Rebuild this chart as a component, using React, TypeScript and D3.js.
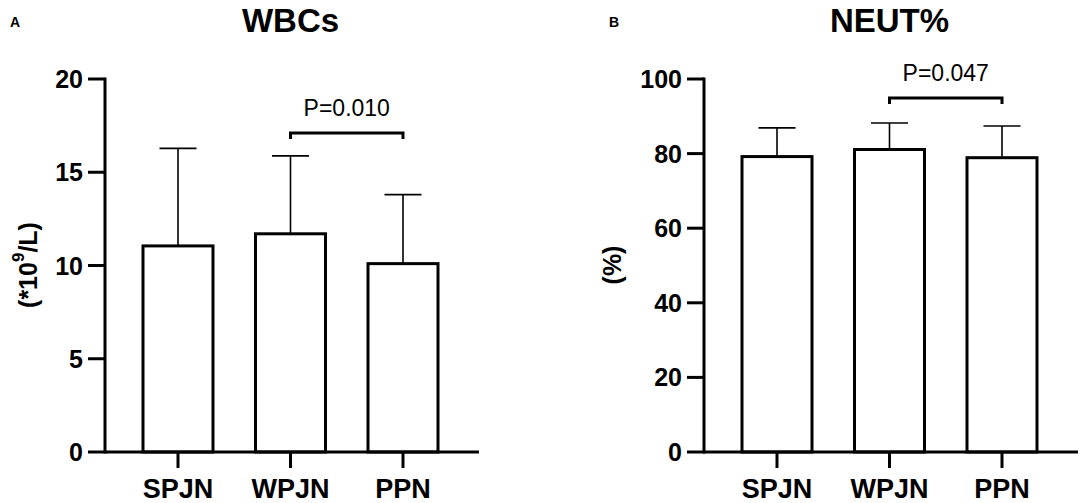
import React from 'react';
import {scaleLinear, scalePoint} from 'd3';

const groups = ['SPJN', 'WPJN', 'PPN'];

const wbcMean = [11.05, 11.7, 10.1];
const wbcTop = [16.28, 15.88, 13.8];
const wbcTicks = [0, 5, 10, 15, 20];

const neutMean = [79.2, 81.1, 78.9];
const neutTop = [86.9, 88.2, 87.4];
const neutTicks = [0, 20, 40, 60, 80, 100];

const FONT = '"Liberation Sans", Arial, Helvetica, sans-serif';

interface PanelProps {
    x0: number
    letter: string
    title: string
    ylabel: React.ReactNode
    ylabelX: number
    means: number[]
    tops: number[]
    ticks: number[]
    ymax: number
    pText: string
    pFrom: string
    pTo: string
    pY: number
}

const Panel = ({x0, letter, title, ylabel, ylabelX, means, tops, ticks, ymax, pText, pFrom, pTo, pY}: PanelProps): JSX.Element => {
    const yScale = scaleLinear().domain([0, ymax]).range([452, 79]);
    const xScale = scalePoint<string>().domain(groups).range([x0 + 73, x0 + 298]);
    const axisLeft = x0;
    const axisRight = x0 + 374;
    const barW = 70;
    const capW = 37;

    const bx1 = xScale(pFrom)!;
    const bx2 = xScale(pTo)!;
    const by = yScale(pY);

    return (
        <g fontFamily={FONT}>
            <text x={x0 - 95} y={27} fontSize={14} fontWeight="bold">{letter}</text>
            <text x={xScale('WPJN')!} y={32} fontSize={33} fontWeight="bold" textAnchor="middle">{title}</text>
            <text transform={`translate(${ylabelX},265) rotate(-90)`} fontSize={25} fontWeight="bold"
                  textAnchor="middle" dominantBaseline="central">{ylabel}</text>

            {/* bars */}
            {groups.map((g, i) => (
                <g key={g}>
                    <line x1={xScale(g)!} x2={xScale(g)!} y1={yScale(means[i])} y2={yScale(tops[i])}
                          stroke="#000" strokeWidth={1.6}/>
                    <line x1={xScale(g)! - capW / 2} x2={xScale(g)! + capW / 2} y1={yScale(tops[i])} y2={yScale(tops[i])}
                          stroke="#000" strokeWidth={1.6}/>
                    <rect x={xScale(g)! - barW / 2} y={yScale(means[i])} width={barW}
                          height={yScale(0) - yScale(means[i])} fill="#fff" stroke="#000" strokeWidth={3}/>
                </g>
            ))}

            {/* y axis */}
            <line x1={axisLeft} x2={axisLeft} y1={yScale(ymax) - 1.5} y2={yScale(0) + 1.5} stroke="#000" strokeWidth={3}/>
            {ticks.map(t => (
                <g key={t}>
                    <line x1={axisLeft - 17} x2={axisLeft} y1={yScale(t)} y2={yScale(t)} stroke="#000" strokeWidth={3}/>
                    <text x={axisLeft - 22} y={yScale(t)} fontSize={25} fontWeight="bold" textAnchor="end"
                          dominantBaseline="central">{t}</text>
                </g>
            ))}

            {/* x axis */}
            <line x1={axisLeft} x2={axisRight} y1={yScale(0)} y2={yScale(0)} stroke="#000" strokeWidth={3}/>
            {groups.map(g => (
                <g key={g}>
                    <line x1={xScale(g)!} x2={xScale(g)!} y1={yScale(0)} y2={yScale(0) + 16} stroke="#000" strokeWidth={3}/>
                    <text x={xScale(g)!} y={498} fontSize={27} fontWeight="bold" textAnchor="middle">{g}</text>
                </g>
            ))}

            {/* significance bracket */}
            <path d={`M${bx1},${by + 6}V${by}H${bx2}V${by + 6}`} fill="none" stroke="#000" strokeWidth={3}/>
            <text x={(bx1 + bx2) / 2} y={by - 17} fontSize={23} textAnchor="middle">{pText}</text>
        </g>
    );
};

const App = (): JSX.Element => {
    return (
        <svg width={1084} height={503} viewBox="0 0 1084 503"
             style={{position: 'absolute', left: 0, top: 0, background: '#fff'}}>
            <Panel x0={105} letter="A" title="WBCs"
                   ylabel={<><tspan>(*10</tspan><tspan dy={-10} fontSize={17}>9</tspan><tspan dy={10}>/L)</tspan></>}
                   ylabelX={28} means={wbcMean} tops={wbcTop} ticks={wbcTicks} ymax={20}
                   pText="P=0.010" pFrom="WPJN" pTo="PPN" pY={17.1}/>
            <Panel x0={704} letter="B" title="NEUT%" ylabel="(%)" ylabelX={612}
                   means={neutMean} tops={neutTop} ticks={neutTicks} ymax={100}
                   pText="P=0.047" pFrom="WPJN" pTo="PPN" pY={94.9}/>
        </svg>
    );
};

export default App;
